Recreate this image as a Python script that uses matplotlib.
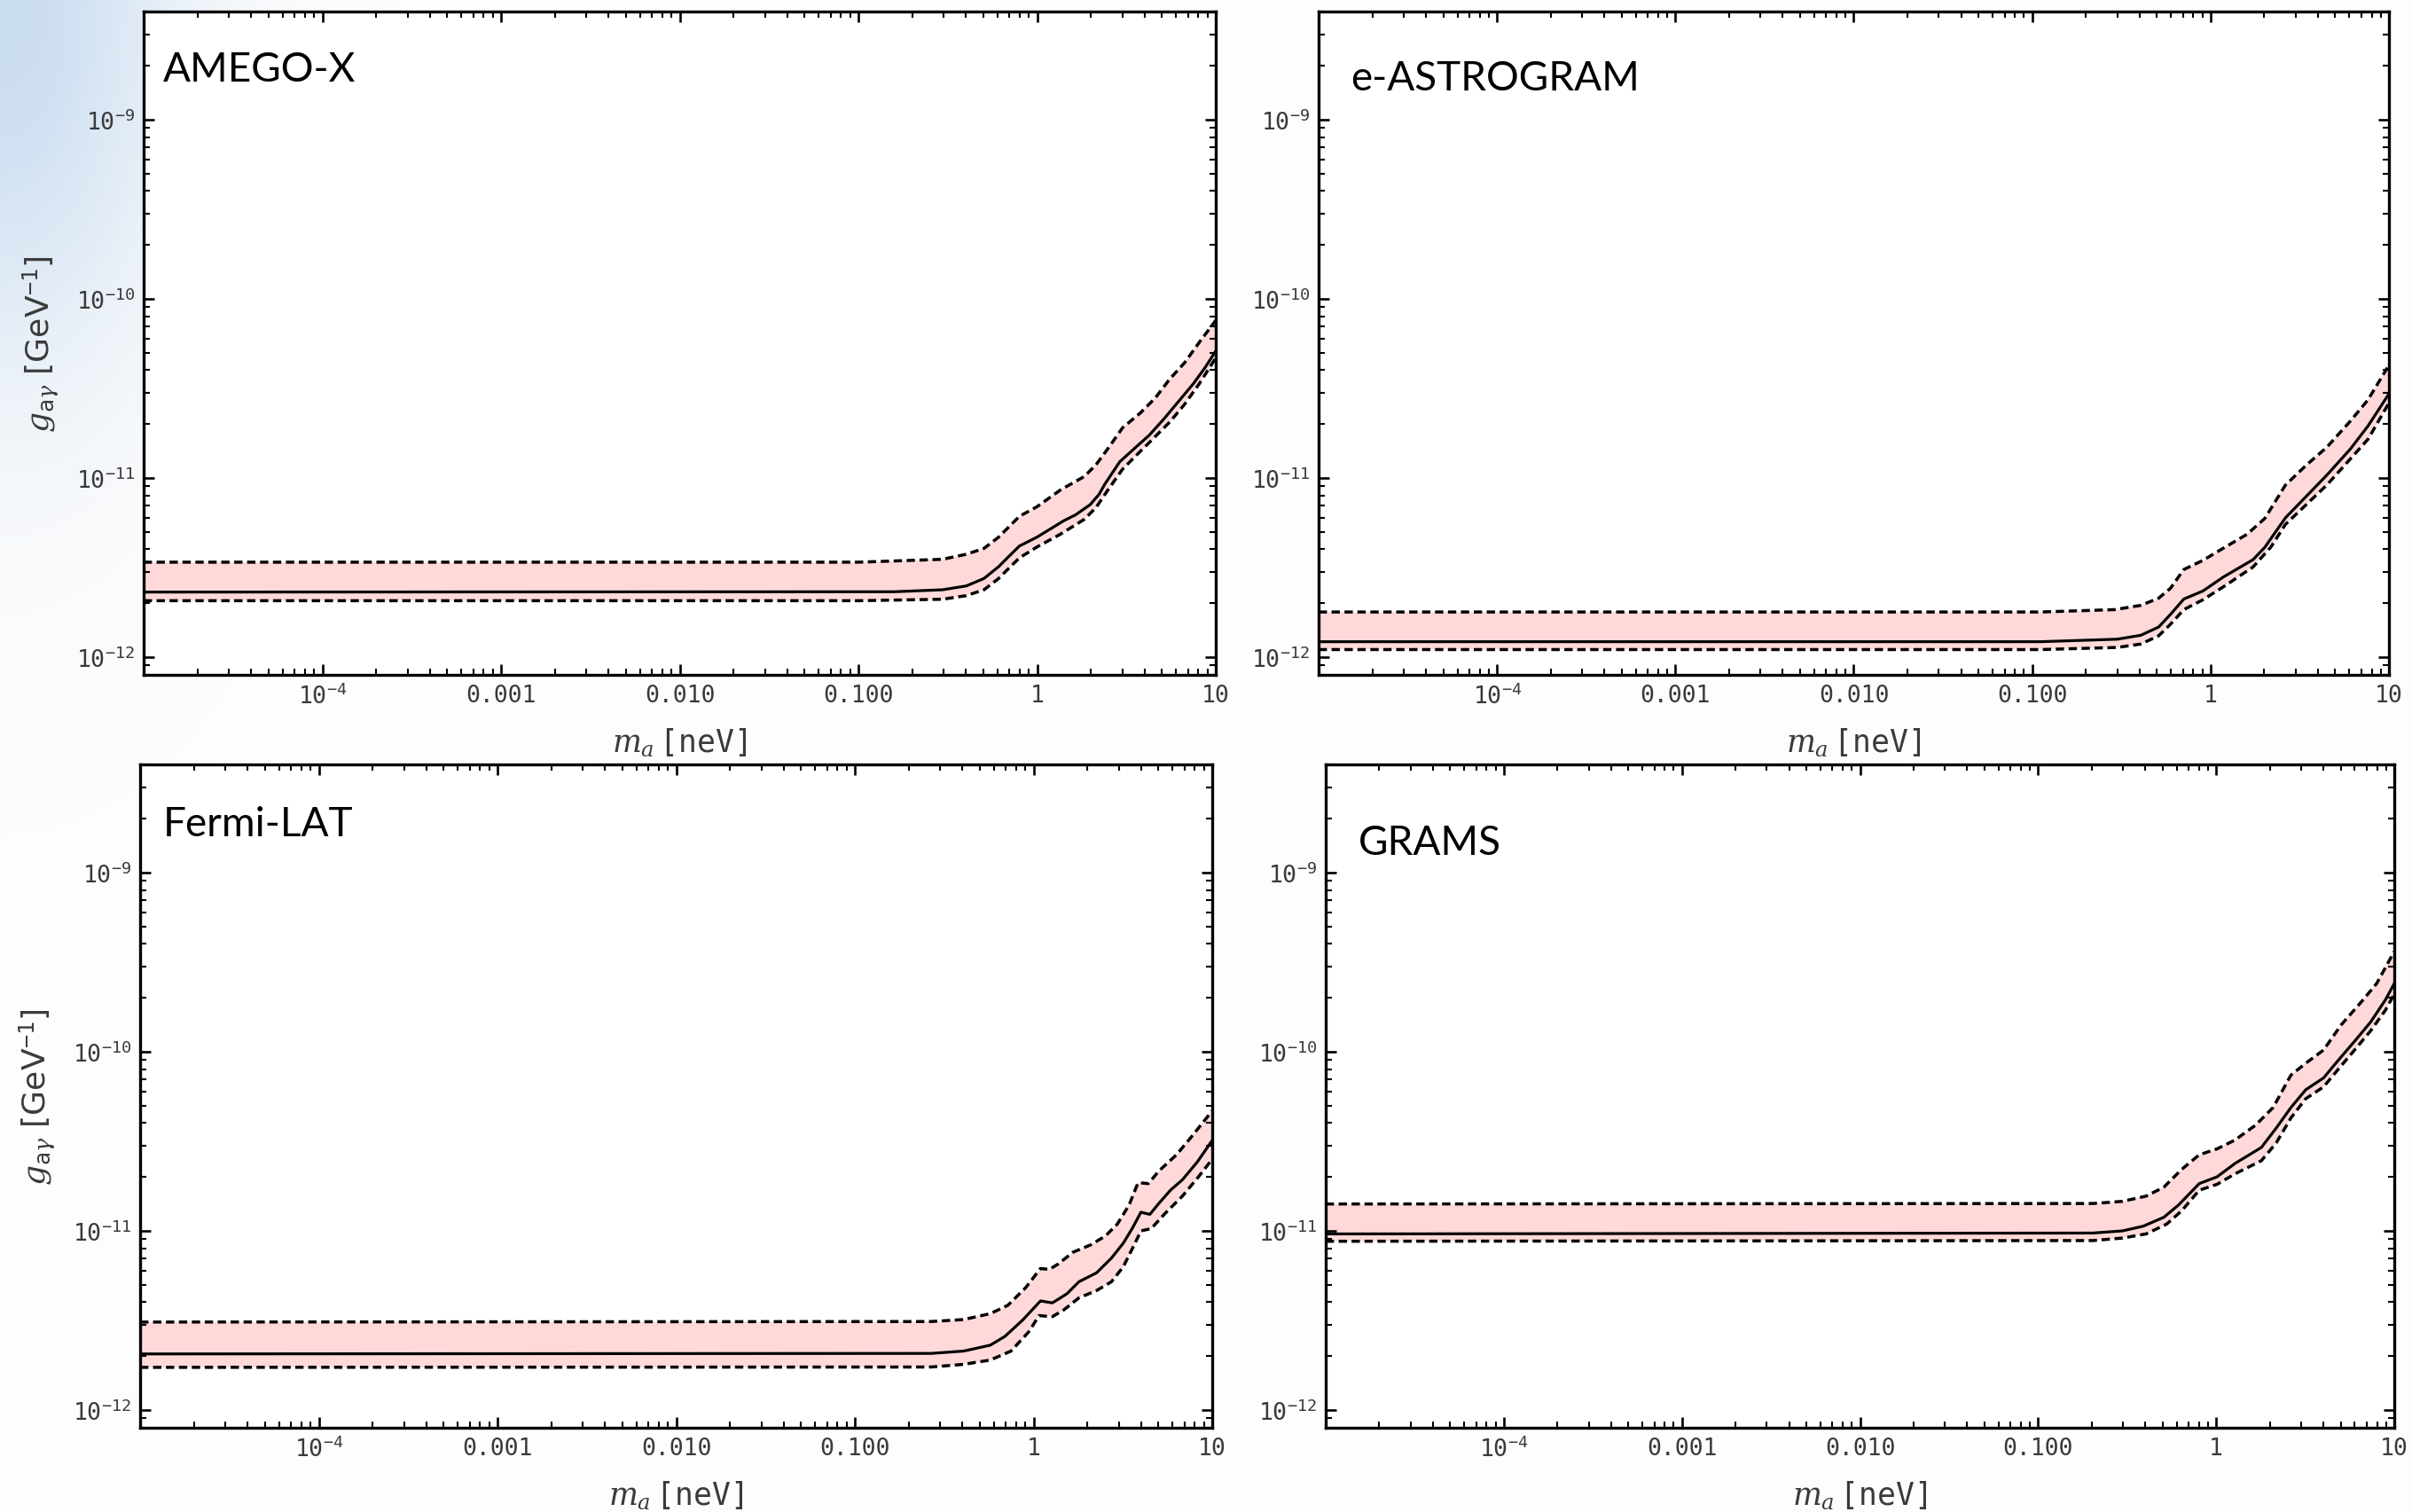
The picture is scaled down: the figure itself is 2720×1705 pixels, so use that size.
import numpy as np
import matplotlib
matplotlib.use('Agg')
import matplotlib.pyplot as plt
from matplotlib.ticker import LogLocator, NullFormatter, FixedLocator, FixedFormatter

plt.rcParams['mathtext.fontset'] = 'custom'
plt.rcParams['mathtext.rm'] = 'DejaVu Sans Mono'
plt.rcParams['mathtext.it'] = 'DejaVu Serif:italic'
plt.rcParams['mathtext.bf'] = 'DejaVu Sans Mono:bold'

# ---------------- data (m_a in neV, g in GeV^-1) ----------------
# AMEGO-X
amego_m_mid = [1e-5, 0.1585, 0.2958, 0.4009, 0.5047, 0.6095, 0.6966, 0.7962, 1.0, 1.409, 1.641,
               1.982, 2.223, 2.399, 2.904, 3.508, 4.246, 5.129, 6.209, 7.516, 8.750, 10.0]
amego_g_mid = [2.307e-12, 2.317e-12, 2.377e-12, 2.495e-12, 2.748e-12, 3.199e-12, 3.656e-12, 4.169e-12,
               4.677e-12, 5.768e-12, 6.223e-12, 7.096e-12, 8.110e-12, 9.268e-12, 1.233e-11, 1.462e-11,
               1.734e-11, 2.138e-11, 2.685e-11, 3.373e-11, 4.159e-11, 5.117e-11]
amego_m_up = [1e-5, 0.1, 0.2958, 0.4009, 0.5047, 0.6095, 0.7096, 0.7962, 1.0, 1.355, 1.837, 2.138,
              2.495, 3.013, 3.784, 4.581, 5.534, 6.699, 8.110, 10.0]
amego_g_up = [3.388e-12, 3.388e-12, 3.516e-12, 3.750e-12, 4.046e-12, 4.677e-12, 5.445e-12, 6.109e-12,
              6.918e-12, 8.590e-12, 1.019e-11, 1.186e-11, 1.462e-11, 1.910e-11, 2.307e-11, 2.793e-11,
              3.573e-11, 4.406e-11, 5.741e-11, 7.586e-11]
amego_m_lo = amego_m_up
amego_g_lo = [2.065e-12, 2.065e-12, 2.104e-12, 2.203e-12, 2.377e-12, 2.748e-12, 3.199e-12, 3.581e-12,
              4.121e-12, 4.864e-12, 5.875e-12, 6.839e-12, 8.590e-12, 1.122e-11, 1.409e-11, 1.702e-11,
              2.056e-11, 2.582e-11, 3.373e-11, 4.677e-11]

# e-ASTROGRAM
astro_m_mid = [1e-5, 0.1114, 0.2999, 0.4064, 0.5117, 0.5957, 0.7079, 0.9057, 1.183, 1.730, 2.014,
               2.630, 3.436, 4.487, 6.081, 7.638, 10.0]
astro_g_mid = [1.219e-12, 1.219e-12, 1.259e-12, 1.324e-12, 1.472e-12, 1.730e-12, 2.109e-12, 2.339e-12,
               2.805e-12, 3.499e-12, 4.102e-12, 5.998e-12, 7.889e-12, 1.038e-11, 1.452e-11, 1.954e-11,
               2.951e-11]
astro_m_up = [1e-5, 0.1114, 0.2891, 0.4064, 0.5117, 0.5957, 0.7079, 0.9057, 1.183, 1.603, 2.014,
              2.630, 3.436, 4.487, 6.081, 7.638, 10.0]
astro_g_up = [1.786e-12, 1.786e-12, 1.841e-12, 1.945e-12, 2.133e-12, 2.421e-12, 3.083e-12, 3.467e-12,
              4.064e-12, 4.853e-12, 5.943e-12, 9.141e-12, 1.178e-11, 1.486e-11, 2.080e-11, 2.735e-11,
              4.266e-11]
astro_m_lo = [1e-5, 0.1114, 0.2999, 0.4064, 0.5117, 0.5957, 0.7079, 0.9057, 1.183, 1.730, 2.173,
              2.630, 3.436, 4.487, 6.081, 7.638, 10.0]
astro_g_lo = [1.102e-12, 1.102e-12, 1.132e-12, 1.183e-12, 1.315e-12, 1.524e-12, 1.841e-12, 2.089e-12,
              2.472e-12, 3.184e-12, 4.102e-12, 5.508e-12, 7.096e-12, 9.141e-12, 1.279e-11, 1.648e-11,
              2.624e-11]

# Fermi-LAT
fermi_m_mid = [1e-5, 0.2673, 0.4064, 0.5728, 0.6918, 0.8690, 1.094, 1.274, 1.374, 1.542, 1.795,
               2.254, 2.729, 3.177, 3.565, 3.990, 4.477, 5.023, 5.848, 6.808, 8.241, 10.0]
fermi_g_mid = [2.056e-12, 2.070e-12, 2.133e-12, 2.301e-12, 2.576e-12, 3.177e-12, 4.064e-12, 3.963e-12,
               4.150e-12, 4.467e-12, 5.200e-12, 5.834e-12, 7.047e-12, 8.531e-12, 1.030e-11, 1.271e-11,
               1.236e-11, 1.422e-11, 1.690e-11, 1.928e-11, 2.421e-11, 3.199e-11]
fermi_m_up = [1e-5, 0.2673, 0.4064, 0.5728, 0.7194, 0.9036, 1.094, 1.227, 1.374, 1.663, 2.089,
              2.529, 2.944, 3.428, 3.846, 4.395, 5.023, 6.310, 7.638, 10.0]
fermi_g_up = [3.097e-12, 3.119e-12, 3.199e-12, 3.451e-12, 3.846e-12, 4.819e-12, 6.166e-12, 6.095e-12,
              6.531e-12, 7.603e-12, 8.356e-12, 9.376e-12, 1.091e-11, 1.396e-11, 1.858e-11, 1.837e-11,
              2.158e-11, 2.661e-11, 3.342e-11, 4.677e-11]
fermi_m_lo = [1e-5, 0.2673, 0.4064, 0.5728, 0.7482, 0.9397, 1.074, 1.274, 1.483, 1.795, 2.254,
              2.729, 3.177, 3.698, 3.990, 4.560, 5.420, 6.808, 8.241, 10.0]
fermi_g_lo = [1.730e-12, 1.738e-12, 1.799e-12, 1.901e-12, 2.133e-12, 2.729e-12, 3.365e-12, 3.319e-12,
              3.631e-12, 4.227e-12, 4.645e-12, 5.200e-12, 6.295e-12, 8.531e-12, 1.0e-11, 1.030e-11,
              1.245e-11, 1.563e-11, 1.963e-11, 2.512e-11]

# GRAMS
grams_m_mid = [1e-5, 0.2032, 0.2979, 0.3890, 0.5082, 0.6152, 0.8035, 1.012, 1.274, 1.795, 2.173,
               2.630, 3.184, 4.009, 4.853, 6.095, 7.379, 8.933, 10.0]
grams_g_mid = [9.616e-12, 9.727e-12, 1.0e-11, 1.062e-11, 1.191e-11, 1.396e-11, 1.837e-11, 2.004e-11,
               2.377e-11, 2.924e-11, 3.750e-11, 4.887e-11, 6.138e-11, 7.145e-11, 8.974e-11, 1.169e-10,
               1.469e-10, 1.954e-10, 2.404e-10]
grams_m_up = [1e-5, 0.2032, 0.2979, 0.4036, 0.5082, 0.6397, 0.8035, 1.012, 1.274, 1.663, 2.089,
              2.630, 3.184, 4.009, 5.035, 6.577, 7.962, 10.0]
grams_g_up = [1.413e-11, 1.422e-11, 1.462e-11, 1.563e-11, 1.754e-11, 2.203e-11, 2.661e-11, 2.871e-11,
              3.214e-11, 3.890e-11, 4.887e-11, 7.413e-11, 8.630e-11, 1.023e-10, 1.413e-10, 1.914e-10,
              2.404e-10, 3.631e-10]
grams_m_lo = [1e-5, 0.2032, 0.2979, 0.4036, 0.5272, 0.6397, 0.8035, 1.012, 1.274, 1.795, 2.173,
              2.630, 3.184, 4.009, 4.853, 6.095, 7.379, 8.933, 10.0]
grams_g_lo = [8.750e-12, 8.831e-12, 9.120e-12, 9.616e-12, 1.091e-11, 1.294e-11, 1.687e-11, 1.820e-11,
              2.080e-11, 2.466e-11, 3.097e-11, 4.276e-11, 5.470e-11, 6.368e-11, 7.998e-11, 1.045e-10,
              1.312e-10, 1.710e-10, 2.104e-10]

panel_names = ['AMEGO-X', 'e-ASTROGRAM', 'Fermi-LAT', 'GRAMS']

x_tick_values = [1e-4, 1e-3, 1e-2, 1e-1, 1, 10]
x_tick_labels = [r'$10^{-4}$', '0.001', '0.010', '0.100', '1', '10']
y_tick_values = [1e-12, 1e-11, 1e-10, 1e-9]
y_tick_labels = [r'$10^{-12}$', r'$10^{-11}$', r'$10^{-10}$', r'$10^{-9}$']

# ---------------- figure ----------------
W, H = 2720, 1706
fig = plt.figure(figsize=(W / 100, H / 100), dpi=100)
fig.patch.set_facecolor('#fdfdfd')

# slide-background tint in the top-left corner
bg = fig.add_axes([0, 0, 1, 1], zorder=-10)
bg.axis('off')
yy, xx = np.mgrid[0:H:8, 0:W:8]
a = 0.6 * np.exp(-(xx / 200.0) ** 2 - (yy / 420.0) ** 2)
img = np.ones(xx.shape + (4,))
img[..., 0] = 168 / 255
img[..., 1] = 199 / 255
img[..., 2] = 232 / 255
img[..., 3] = a
bg.imshow(img, extent=[0, W, H, 0], aspect='auto', interpolation='bilinear')
bg.set_xlim(0, W)
bg.set_ylim(H, 0)

rects = [
    [162 / W, 1 - 762 / H, 1209 / W, 748 / H],
    [1487 / W, 1 - 762 / H, 1207 / W, 748 / H],
    [158 / W, 1 - 1611 / H, 1209 / W, 748 / H],
    [1495 / W, 1 - 1611 / H, 1205 / W, 748 / H],
]
title_pos = [(0.018, 0.896), (0.030, 0.883), (0.021, 0.893), (0.031, 0.865)]

data = [
    (amego_m_mid, amego_g_mid, amego_m_up, amego_g_up, amego_m_lo, amego_g_lo),
    (astro_m_mid, astro_g_mid, astro_m_up, astro_g_up, astro_m_lo, astro_g_lo),
    (fermi_m_mid, fermi_g_mid, fermi_m_up, fermi_g_up, fermi_m_lo, fermi_g_lo),
    (grams_m_mid, grams_g_mid, grams_m_up, grams_g_up, grams_m_lo, grams_g_lo),
]

tick_font = 'DejaVu Sans Mono'
text_col = '#3a3a3a'
dash = (0, (2.7, 1.5))

for i, (rect, name, tpos, d) in enumerate(zip(rects, panel_names, title_pos, data)):
    ax = fig.add_axes(rect)
    ax.set_facecolor('white')
    m_mid, g_mid, m_up, g_up, m_lo, g_lo = d
    ax.set_xscale('log')
    ax.set_yscale('log')
    poly_x = list(m_up) + list(m_lo)[::-1]
    poly_y = list(g_up) + list(g_lo)[::-1]
    ax.fill(poly_x, poly_y, color='#ffd9d9', lw=0, zorder=1)
    ax.plot(m_up, g_up, color='black', lw=2.5, linestyle=dash, zorder=3)
    ax.plot(m_lo, g_lo, color='black', lw=2.5, linestyle=dash, zorder=3)
    ax.plot(m_mid, g_mid, color='black', lw=2.3, zorder=4)

    ax.set_xlim(1e-5, 10)
    ax.set_ylim(7.96e-13, 4.02e-9)

    ax.xaxis.set_major_locator(FixedLocator(x_tick_values))
    ax.xaxis.set_major_formatter(FixedFormatter(x_tick_labels))
    ax.xaxis.set_minor_locator(LogLocator(base=10, subs=np.arange(2, 10), numticks=20))
    ax.xaxis.set_minor_formatter(NullFormatter())
    ax.yaxis.set_major_locator(FixedLocator(y_tick_values))
    ax.yaxis.set_major_formatter(FixedFormatter(y_tick_labels))
    ax.yaxis.set_minor_locator(LogLocator(base=10, subs=np.arange(2, 10), numticks=20))
    ax.yaxis.set_minor_formatter(NullFormatter())

    ax.tick_params(which='both', direction='in', top=True, right=True, color='black')
    ax.tick_params(which='major', length=8.6, width=1.9, pad=7, labelsize=19,
                   labelcolor=text_col, labelfontfamily=tick_font)
    ax.tick_params(which='minor', length=5, width=1.5)
    for sp in ax.spines.values():
        sp.set_linewidth(2.4)
        sp.set_color('black')

    ax.set_xlabel(r'$m_a\,$' + '[neV]', fontsize=25, family=tick_font, color=text_col, labelpad=15)
    if i in (0, 2):
        ax.set_ylabel(r'$g_{\mathrm{a}\gamma}$' + ' [GeV$^{-1}$]', fontsize=26,
                      family='DejaVu Sans', color=text_col, labelpad=12)

    ax.text(tpos[0], tpos[1], name, transform=ax.transAxes, fontsize=33,
            family='Lato', weight='normal', color='black', va='baseline', ha='left')

fig.savefig('out.png', dpi=100, facecolor=fig.get_facecolor())
